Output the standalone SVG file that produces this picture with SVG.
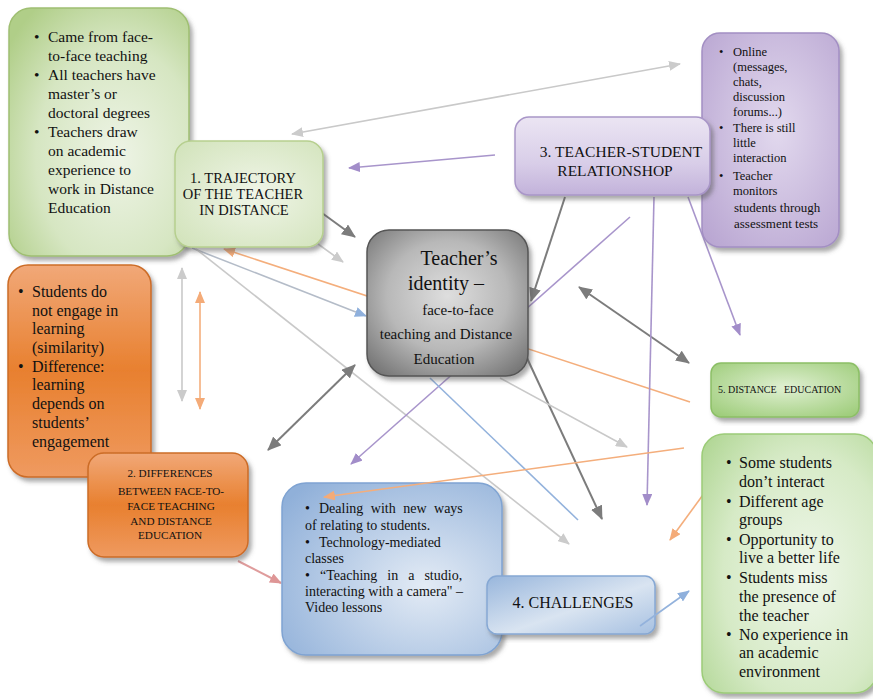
<svg xmlns="http://www.w3.org/2000/svg" width="873" height="699" viewBox="0 0 873 699" font-family="'Liberation Serif', 'DejaVu Serif', serif">
<style>
text{font-family:'Liberation Serif','DejaVu Serif',serif;fill:#111}
.ln{fill:none;stroke-width:1.6}
.lg{stroke:#c9c9c9}
.dg{stroke:#7c7c7c;stroke-width:2}
.pu{stroke:#a895cb}
.or{stroke:#f4ae7c}
.bl{stroke:#93b2dc}
.gb{stroke:#b4bcc8}
.pk{stroke:#df9c9c;stroke-width:2}
.box{filter:url(#sh)}
</style>
<defs>
<filter id="sh" x="-10%" y="-10%" width="125%" height="125%"><feDropShadow dx="3" dy="4" stdDeviation="2" flood-color="#555" flood-opacity="0.5"/></filter>
<radialGradient id="gGreenBig" cx="0.6" cy="0.6" r="0.75"><stop offset="0" stop-color="#eef4e6"/><stop offset="0.6" stop-color="#d6e6c2"/><stop offset="1" stop-color="#b0ce88"/></radialGradient>
<radialGradient id="gGreenLight" cx="0.55" cy="0.5" r="0.75"><stop offset="0" stop-color="#f0f5e8"/><stop offset="1" stop-color="#d0e2b8"/></radialGradient>
<radialGradient id="gPurple" cx="0.55" cy="0.45" r="0.8"><stop offset="0" stop-color="#e2d9ee"/><stop offset="1" stop-color="#b5a1cf"/></radialGradient>
<linearGradient id="gPurple2" x1="0" y1="0" x2="0" y2="1"><stop offset="0" stop-color="#ebe5f3"/><stop offset="0.6" stop-color="#d8cde8"/><stop offset="1" stop-color="#c2b2da"/></linearGradient>
<radialGradient id="gGrey" cx="0.5" cy="0.45" r="0.75"><stop offset="0" stop-color="#dedede"/><stop offset="0.5" stop-color="#b8b8b8"/><stop offset="1" stop-color="#666"/></radialGradient>
<linearGradient id="gOrange" x1="0" y1="0" x2="0" y2="1"><stop offset="0" stop-color="#f1a878"/><stop offset="0.5" stop-color="#e8802f"/><stop offset="1" stop-color="#ef9a60"/></linearGradient>
<radialGradient id="gBlue" cx="0.65" cy="0.6" r="0.8"><stop offset="0" stop-color="#e3ebf5"/><stop offset="1" stop-color="#90b0d9"/></radialGradient>
<linearGradient id="gBlue2" x1="0" y1="0" x2="1" y2="1"><stop offset="0" stop-color="#98b6dc"/><stop offset="0.55" stop-color="#d9e4f1"/><stop offset="1" stop-color="#a6c0e1"/></linearGradient>
<radialGradient id="gGreen5" cx="0.5" cy="0.45" r="0.7"><stop offset="0" stop-color="#e0f0d2"/><stop offset="1" stop-color="#9dcc79"/></radialGradient>
<radialGradient id="gGreenBR" cx="0.6" cy="0.55" r="0.8"><stop offset="0" stop-color="#eff7ea"/><stop offset="0.6" stop-color="#d6eac6"/><stop offset="1" stop-color="#aed591"/></radialGradient>
<marker id="mLG" viewBox="0 0 12 10" refX="11" refY="5" markerWidth="12" markerHeight="10" markerUnits="userSpaceOnUse" orient="auto-start-reverse"><path d="M0,0L12,5L0,10z" fill="#cbcbcb"/></marker>
<marker id="mDG" viewBox="0 0 14 12" refX="13" refY="6" markerWidth="14" markerHeight="12" markerUnits="userSpaceOnUse" orient="auto-start-reverse"><path d="M0,0L14,6L0,12z" fill="#7c7c7c"/></marker>
<marker id="mPU" viewBox="0 0 12 10" refX="11" refY="5" markerWidth="12" markerHeight="10" markerUnits="userSpaceOnUse" orient="auto-start-reverse"><path d="M0,0L12,5L0,10z" fill="#a28dc9"/></marker>
<marker id="mOR" viewBox="0 0 12 10" refX="11" refY="5" markerWidth="12" markerHeight="10" markerUnits="userSpaceOnUse" orient="auto-start-reverse"><path d="M0,0L12,5L0,10z" fill="#f4ab78"/></marker>
<marker id="mBL" viewBox="0 0 12 10" refX="11" refY="5" markerWidth="12" markerHeight="10" markerUnits="userSpaceOnUse" orient="auto-start-reverse"><path d="M0,0L12,5L0,10z" fill="#8fb0dc"/></marker>
<marker id="mPK" viewBox="0 0 12 10" refX="11" refY="5" markerWidth="12" markerHeight="10" markerUnits="userSpaceOnUse" orient="auto-start-reverse"><path d="M0,0L12,5L0,10z" fill="#de9696"/></marker>
</defs>
<rect width="873" height="699" fill="#fff"/>

<g id="connectors">
<line class="ln lg" x1="292" y1="134" x2="680" y2="64" marker-start="url(#mLG)" marker-end="url(#mLG)"/>
<line class="ln pu" x1="495" y1="155" x2="349" y2="168" marker-end="url(#mPU)"/>
<line class="ln dg" x1="322" y1="213" x2="355" y2="237" marker-end="url(#mDG)"/>
<line class="ln lg" x1="318" y1="244" x2="343" y2="262" marker-end="url(#mLG)"/>
<line class="ln or" x1="690" y1="402" x2="224" y2="249" marker-end="url(#mOR)"/>
<line class="ln gb" x1="192" y1="248" x2="366" y2="316" marker-end="url(#mBL)"/>
<line class="ln lg" x1="196" y1="249" x2="569" y2="544" marker-end="url(#mLG)"/>
<line class="ln lg" x1="182" y1="268" x2="182" y2="401" marker-start="url(#mLG)" marker-end="url(#mLG)"/>
<line class="ln or" x1="200" y1="292" x2="200" y2="409" marker-start="url(#mOR)" marker-end="url(#mOR)"/>
<line class="ln dg" x1="268" y1="450" x2="355" y2="365" marker-start="url(#mDG)" marker-end="url(#mDG)"/>
<line class="ln pu" x1="630" y1="217" x2="351" y2="464" marker-end="url(#mPU)"/>
<line class="ln dg" x1="565" y1="197" x2="531" y2="301" marker-end="url(#mDG)"/>
<line class="ln dg" x1="527" y1="358" x2="602" y2="519" marker-end="url(#mDG)"/>
<line class="ln lg" x1="500" y1="378" x2="627" y2="447" marker-end="url(#mLG)"/>
<line class="ln dg" x1="579" y1="287" x2="689" y2="363" marker-start="url(#mDG)" marker-end="url(#mDG)"/>
<line class="ln pu" x1="688" y1="197" x2="740" y2="335" marker-end="url(#mPU)"/>
<line class="ln pu" x1="654" y1="197" x2="647" y2="505" marker-end="url(#mPU)"/>
<line class="ln or" x1="716" y1="477" x2="670" y2="540" marker-end="url(#mOR)"/>
<line class="ln bl" x1="430" y1="378" x2="578" y2="520"/>
<line class="ln pk" x1="238" y1="561" x2="281" y2="583" marker-end="url(#mPK)"/>
</g>

<g id="node-green-notes">
<rect class="box" x="9" y="8" width="180" height="248" rx="22" fill="url(#gGreenBig)" stroke="#9fbf72" stroke-width="1.5"/>
<g font-size="15.5">
<text x="34" y="42">•</text><text x="48" y="42">Came from face-</text>
<text x="48" y="61">to-face teaching</text>
<text x="34" y="80">•</text><text x="48" y="80">All teachers have</text>
<text x="48" y="99">master’s or</text>
<text x="48" y="118">doctoral degrees</text>
<text x="34" y="137">•</text><text x="48" y="137">Teachers draw</text>
<text x="48" y="156">on academic</text>
<text x="48" y="175">experience to</text>
<text x="48" y="194">work in Distance</text>
<text x="48" y="213">Education</text>
</g>
</g>

<g id="node-trajectory">
<rect class="box" x="175" y="141" width="148" height="106" rx="16" fill="url(#gGreenLight)" stroke="#b6cf8e" stroke-width="1.5"/>
<g font-size="14.5" text-anchor="middle">
<text x="243" y="183">1. TRAJECTORY</text>
<text x="243" y="199">OF THE TEACHER</text>
<text x="244" y="215">IN DISTANCE</text>
</g>
</g>

<g id="node-purple-notes">
<rect class="box" x="702" y="33" width="137" height="214" rx="18" fill="url(#gPurple)" stroke="#a38fc3" stroke-width="1.5"/>
<g font-size="12.5">
<text x="719" y="56">•</text><text x="733" y="56">Online</text>
<text x="733" y="71">(messages,</text>
<text x="733" y="86">chats,</text>
<text x="733" y="101">discussion</text>
<text x="733" y="116">forums...)</text>
<text x="719" y="132">•</text><text x="733" y="132">There is still</text>
<text x="733" y="147">little</text>
<text x="733" y="162">interaction</text>
<text x="719" y="180">•</text><text x="733" y="180">Teacher</text>
<text x="733" y="195">monitors</text>
<text x="734" y="212" font-size="13">students through</text>
<text x="734" y="228" font-size="13">assessment tests</text>
</g>
</g>

<g id="node-relationship">
<rect class="box" x="515" y="117" width="195" height="78" rx="14" fill="url(#gPurple2)" stroke="#a996c8" stroke-width="1.5"/>
<g font-size="15.5" text-anchor="middle">
<text x="621" y="157">3. TEACHER-STUDENT</text>
<text x="615" y="176">RELATIONSHOP</text>
</g>
</g>

<g id="node-center">
<rect class="box" x="367" y="230" width="161" height="146" rx="22" fill="url(#gGrey)" stroke="#555" stroke-width="1.5"/>
<g text-anchor="middle">
<text x="459" y="265" font-size="20">Teacher’s</text>
<text x="446" y="290" font-size="20">identity –</text>
<text x="458" y="315" font-size="15">face-to-face</text>
<text x="446" y="339" font-size="15">teaching and Distance</text>
<text x="444" y="364" font-size="15">Education</text>
</g>
</g>

<g id="node-orange-notes">
<rect class="box" x="8" y="265" width="143" height="212" rx="20" fill="url(#gOrange)" stroke="#cc6c26" stroke-width="1.5"/>
<g font-size="16">
<text x="18" y="297">•</text><text x="32" y="297">Students do</text>
<text x="32" y="316">not engage in</text>
<text x="32" y="334">learning</text>
<text x="32" y="353">(similarity)</text>
<text x="18" y="372">•</text><text x="32" y="372">Difference:</text>
<text x="32" y="390">learning</text>
<text x="32" y="409">depends on</text>
<text x="32" y="428">students’</text>
<text x="32" y="447">engagement</text>
</g>
</g>

<g id="node-differences">
<rect class="box" x="88" y="453" width="160" height="104" rx="16" fill="url(#gOrange)" stroke="#cc6c26" stroke-width="1.5"/>
<g font-size="11.2" text-anchor="middle">
<text x="170" y="477">2. DIFFERENCES</text>
<text x="171" y="495">BETWEEN FACE-TO-</text>
<text x="171" y="510">FACE TEACHING</text>
<text x="171" y="525">AND DISTANCE</text>
<text x="170" y="539">EDUCATION</text>
</g>
</g>

<g id="node-blue-notes">
<rect class="box" x="282" y="483" width="220" height="172" rx="24" fill="url(#gBlue)" stroke="#7fa3d2" stroke-width="1.5"/>
<g font-size="14">
<text x="305" y="513">•</text><text x="319" y="513" word-spacing="4">Dealing with new ways</text>
<text x="305" y="530">of relating to students.</text>
<text x="305" y="547">•</text><text x="319" y="547">Technology-mediated</text>
<text x="305" y="563">classes</text>
<text x="305" y="580">•</text><text x="320" y="580" word-spacing="6.5">“Teaching in a studio,</text>
<text x="305" y="596">interacting with a camera" –</text>
<text x="305" y="612">Video lessons</text>
</g>
</g>
<line class="ln or" x1="684" y1="448" x2="324" y2="497" marker-end="url(#mOR)"/>

<g id="node-challenges">
<rect class="box" x="487" y="576" width="168" height="58" rx="10" fill="url(#gBlue2)" stroke="#86a8d4" stroke-width="1.5"/>
<text x="573" y="608" font-size="16" text-anchor="middle">4. CHALLENGES</text>
</g>
<line class="ln bl" x1="640" y1="626" x2="689" y2="591" marker-end="url(#mBL)"/>

<g id="node-distance-education">
<rect class="box" x="711" y="363" width="148" height="54" rx="10" fill="url(#gGreen5)" stroke="#8cbf66" stroke-width="1.5"/>
<g font-size="10"><text x="718" y="393">5. DISTANCE</text><text x="784" y="393">EDUCATION</text></g>
</g>

<g id="node-green-students">
<rect class="box" x="702" y="434" width="175" height="259" rx="22" fill="url(#gGreenBR)" stroke="#9ccc78" stroke-width="1.5"/>
<g font-size="16">
<text x="726" y="468">•</text><text x="739" y="468">Some students</text>
<text x="739" y="487">don’t interact</text>
<text x="726" y="507">•</text><text x="739" y="507">Different age</text>
<text x="739" y="525">groups</text>
<text x="726" y="545">•</text><text x="739" y="545">Opportunity to</text>
<text x="739" y="563">live a better life</text>
<text x="726" y="583">•</text><text x="739" y="583">Students miss</text>
<text x="739" y="602">the presence of</text>
<text x="739" y="621">the teacher</text>
<text x="726" y="640">•</text><text x="739" y="640">No experience in</text>
<text x="739" y="658">an academic</text>
<text x="739" y="677">environment</text>
</g>
</g>
</svg>
